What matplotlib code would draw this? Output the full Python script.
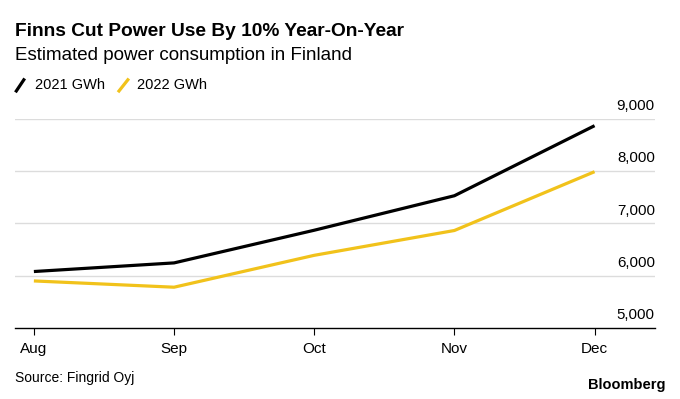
import matplotlib.pyplot as plt
from matplotlib.lines import Line2D

plt.rcParams['font.family'] = ['Liberation Sans', 'DejaVu Sans']

months = ["Aug", "Sep", "Oct", "Nov", "Dec"]
gwh_2021 = [6080, 6245, 6870, 7530, 8870]
gwh_2022 = [5900, 5780, 6390, 6865, 7990]
yticks = [5000, 6000, 7000, 8000, 9000]

black = "#000000"
yellow = "#f1c21b"

fig = plt.figure(figsize=(6.8, 3.99), dpi=100)
ax = fig.add_axes([0.022, 0.178, 0.941, 0.524])

x = list(range(len(months)))
ax.plot(x, gwh_2021, color=black, lw=2.3, solid_capstyle="butt")
ax.plot(x, gwh_2022, color=yellow, lw=2.3, solid_capstyle="butt")

ax.set_xlim(-0.135, 4.43)
ax.set_ylim(5000, 9000)
ax.set_xticks(x)
ax.set_xticklabels(months, fontsize=11)
ax.tick_params(axis="x", length=5, width=0.8, color="#000000", pad=5)
ax.set_yticks([])

for v in yticks[1:]:
    ax.axhline(v, color="#dcdcdc", lw=1, zorder=0)
# y labels sit above gridlines at right edge
for v in yticks:
    ax.text(1.0, v + 170, f"{v:,}", transform=ax.get_yaxis_transform(),
            ha="right", va="baseline", fontsize=10.8)

for s in ["top", "right", "left"]:
    ax.spines[s].set_visible(False)
ax.spines["bottom"].set_linewidth(1.0)

fig.text(0.022, 0.92, "Finns Cut Power Use By 10% Year-On-Year",
         fontsize=13.8, fontweight="bold", va="center")
fig.text(0.022, 0.86, "Estimated power consumption in Finland",
         fontsize=13.5, va="center")

# legend
fig.add_artist(Line2D([0.024, 0.035], [0.772, 0.8], color=black, lw=2.3,
                      transform=fig.transFigure))
fig.text(0.051, 0.787, "2021 GWh", fontsize=10.5, va="center")
fig.add_artist(Line2D([0.175, 0.188], [0.772, 0.8], color=yellow, lw=2.3,
                      transform=fig.transFigure))
fig.text(0.201, 0.787, "2022 GWh", fontsize=10.5, va="center")

fig.text(0.022, 0.053, "Source: Fingrid Oyj", fontsize=10, va="center")
fig.text(0.978, 0.035, "Bloomberg", fontsize=10.5, fontweight="bold",
         ha="right", va="center")

fig.savefig("out.png", dpi=100, facecolor="white")
